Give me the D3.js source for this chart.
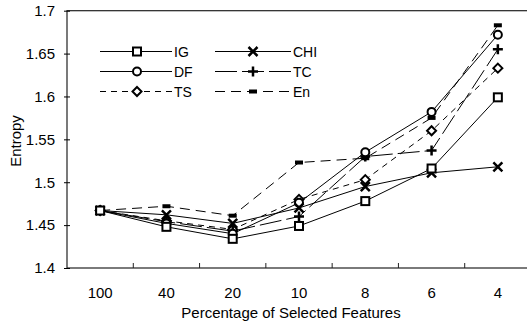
<!DOCTYPE html>
<html>
<head>
<meta charset="utf-8">
<script src="https://cdn.jsdelivr.net/npm/d3@7"></script>
<style>
  body { margin: 0; background: #fff; }
  text { font-family: "Liberation Sans", Arial, sans-serif; fill: #000; }
</style>
</head>
<body>
<div id="chart"></div>
<script>
var categories = ["100", "40", "20", "10", "8", "6", "4"];
var yTicks = [1.4, 1.45, 1.5, 1.55, 1.6, 1.65, 1.7];
var yTickLabels = ["1.4", "1.45", "1.5", "1.55", "1.6", "1.65", "1.7"];

var seriesNames = ["IG", "CHI", "DF", "TC", "TS", "En"];
var IG  = [1.467, 1.448, 1.434, 1.449, 1.478, 1.516, 1.599];
var CHI = [1.467, 1.462, 1.452, 1.470, 1.495, 1.511, 1.518];
var DF  = [1.467, 1.452, 1.440, 1.476, 1.535, 1.582, 1.672];
var TC  = [1.467, 1.454, 1.443, 1.460, 1.530, 1.537, 1.655];
var TS  = [1.467, 1.455, 1.445, 1.480, 1.503, 1.560, 1.633];
var En  = [1.467, 1.472, 1.461, 1.523, 1.528, 1.575, 1.683];

var width = 527, height = 327;
var margin = {top: 10.7, right: -4, bottom: 59, left: 67};

var svg = d3.select("#chart").append("svg")
    .attr("width", width)
    .attr("height", height);

var x = d3.scalePoint().domain(categories).range([margin.left, width - margin.right]).padding(0.5);
var xb = d3.scaleBand().domain(categories).range([margin.left, width - margin.right]);
var y = d3.scaleLinear().domain([1.4, 1.7]).range([height - margin.bottom, margin.top]);

var series = [
  {name: "IG",  values: IG,  dash: null,   marker: "square"},
  {name: "CHI", values: CHI, dash: null,   marker: "x"},
  {name: "DF",  values: DF,  dash: null,   marker: "circle"},
  {name: "TC",  values: TC,  dash: "22,5", marker: "plus"},
  {name: "TS",  values: TS,  dash: "6,5",  marker: "diamond"},
  {name: "En",  values: En,  dash: "10,6", marker: "bar"}
];

// frame
svg.append("rect")
    .attr("x", margin.left).attr("y", margin.top)
    .attr("width", width - margin.right - margin.left)
    .attr("height", height - margin.bottom - margin.top)
    .attr("fill", "none").attr("stroke", "#222").attr("stroke-width", 1.2);

// y axis
var yAxis = d3.axisLeft(y).tickValues(yTicks)
    .tickFormat(function(d, i) { return yTickLabels[i]; })
    .tickSizeInner(3).tickSizeOuter(0).tickPadding(9);
var gy = svg.append("g").attr("transform", "translate(" + margin.left + ",0)").call(yAxis);
gy.select(".domain").remove();
gy.selectAll("text").style("font-size", "15px");
gy.selectAll("line").attr("x2", 3).attr("x1", -3);

// x axis, ticks at band edges
var gx = svg.append("g").attr("transform", "translate(0," + y(1.4) + ")");
gx.selectAll("line.tick").data(categories.slice(1))
  .enter().append("line")
    .attr("x1", function(d) { return xb(d); }).attr("x2", function(d) { return xb(d); })
    .attr("y1", 0).attr("y2", -5)
    .attr("stroke", "#222");
gx.selectAll("text").data(categories)
  .enter().append("text")
    .attr("x", function(d) { return x(d); })
    .attr("y", 30)
    .attr("text-anchor", "middle")
    .style("font-size", "15px")
    .text(function(d) { return d; });

svg.append("text")
    .attr("x", 291).attr("y", 318)
    .attr("text-anchor", "middle")
    .style("font-size", "15px")
    .text("Percentage of Selected Features");

svg.append("text")
    .attr("transform", "translate(21,141) rotate(-90)")
    .attr("text-anchor", "middle")
    .style("font-size", "15px")
    .text("Entropy");

function drawMarker(g, type, cx, cy) {
  if (type === "square") {
    g.append("rect").attr("x", cx - 4).attr("y", cy - 4).attr("width", 8).attr("height", 8)
      .attr("fill", "#fff").attr("stroke", "#000").attr("stroke-width", 2);
  } else if (type === "circle") {
    g.append("circle").attr("cx", cx).attr("cy", cy).attr("r", 4)
      .attr("fill", "#fff").attr("stroke", "#000").attr("stroke-width", 2);
  } else if (type === "diamond") {
    g.append("path").attr("d", "M" + cx + "," + (cy - 4.5) + "L" + (cx + 4.5) + "," + cy +
        "L" + cx + "," + (cy + 4.5) + "L" + (cx - 4.5) + "," + cy + "Z")
      .attr("fill", "#fff").attr("stroke", "#000").attr("stroke-width", 2);
  } else if (type === "x") {
    g.append("path").attr("d", "M" + (cx - 4.5) + "," + (cy - 4.5) + "L" + (cx + 4.5) + "," + (cy + 4.5) +
        "M" + (cx + 4.5) + "," + (cy - 4.5) + "L" + (cx - 4.5) + "," + (cy + 4.5))
      .attr("stroke", "#000").attr("stroke-width", 2.5);
  } else if (type === "plus") {
    g.append("path").attr("d", "M" + (cx - 5) + "," + cy + "L" + (cx + 5) + "," + cy +
        "M" + cx + "," + (cy - 5) + "L" + cx + "," + (cy + 5))
      .attr("stroke", "#000").attr("stroke-width", 2.5);
  } else if (type === "bar") {
    g.append("rect").attr("x", cx - 4).attr("y", cy - 2).attr("width", 8).attr("height", 4)
      .attr("fill", "#000");
  }
}

var line = d3.line()
    .x(function(d, i) { return x(categories[i]); })
    .y(function(d) { return y(d); });

series.forEach(function(s) {
  svg.append("path")
    .attr("d", line(s.values))
    .attr("fill", "none")
    .attr("stroke", "#000")
    .attr("stroke-width", 1)
    .attr("stroke-dasharray", s.dash);
});

series.slice().reverse().forEach(function(s) {
  var g = svg.append("g");
  s.values.forEach(function(v, i) {
    drawMarker(g, s.marker, x(categories[i]), y(v));
  });
});

// legend
var legendRows = [51.5, 71.5, 91.5];
var legendCols = [{x1: 100, x2: 172, m: 137}, {x1: 215, x2: 291, m: 253}];
series.forEach(function(s, i) {
  var col = legendCols[i % 2], row = legendRows[Math.floor(i / 2)];
  var g = svg.append("g");
  g.append("line").attr("x1", col.x1).attr("x2", col.x2).attr("y1", row).attr("y2", row)
    .attr("stroke", "#000").attr("stroke-width", 1).attr("stroke-dasharray", s.dash);
  drawMarker(g, s.marker, col.m, row);
  g.append("text").attr("x", col.x2 + 2).attr("y", row + 5)
    .style("font-size", "14px").text(s.name);
});
</script>
</body>
</html>
